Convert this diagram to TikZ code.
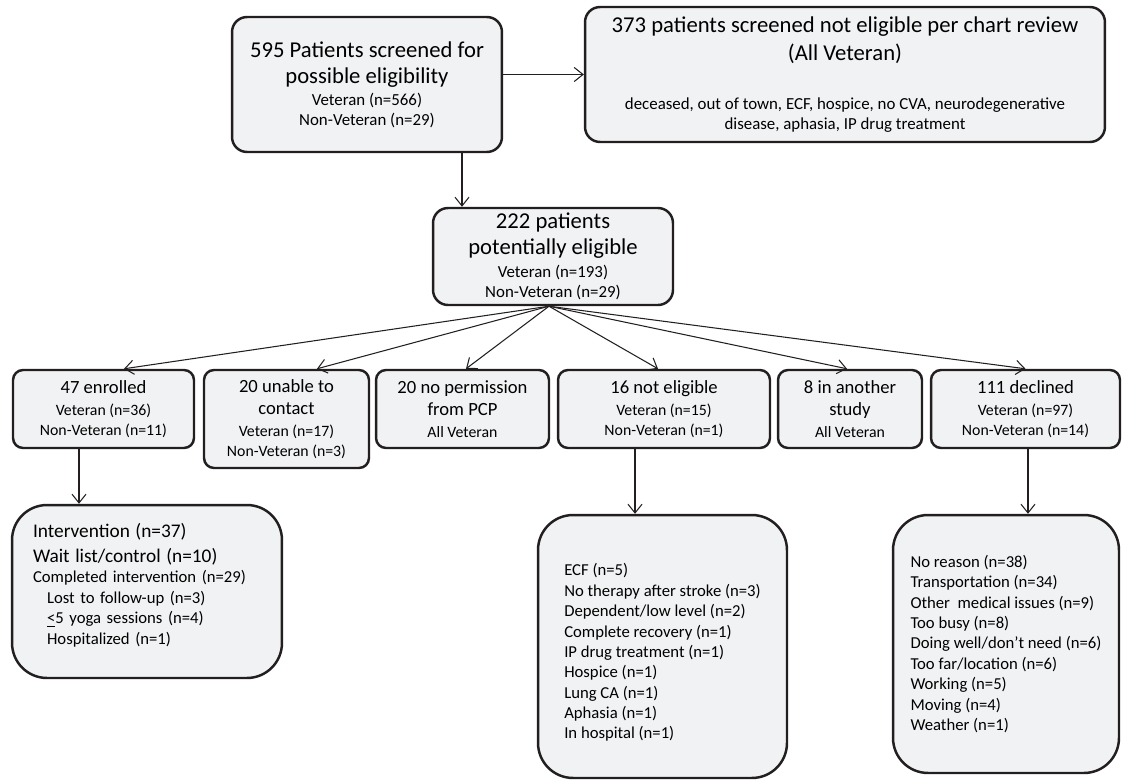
\documentclass[tikz,border=0pt]{standalone}
\usepackage{fontspec}
\setmainfont{Carlito}
\usetikzlibrary{arrows.meta}
\definecolor{boxfill}{HTML}{F1F2F4}
\definecolor{boxline}{HTML}{231F20}
\newcommand{\hd}{\fontsize{12.9}{14.5}\selectfont}
\newcommand{\md}{\fontsize{10.6}{12.5}\selectfont}
\newcommand{\sm}{\fontsize{9}{11.3}\selectfont}
\newcommand{\smb}{\fontsize{9.6}{11.3}\selectfont}
\newcommand{\lst}{\fontsize{9.5}{11.6}\selectfont}

\begin{document}
\begin{tikzpicture}[x=0.02cm, y=-0.02cm,
    box/.style={draw=boxline, fill=boxfill, line width=1.4pt, rounded corners=0.3cm, align=center, inner sep=2pt, font=\smb},
    rowbox/.style={box, rounded corners=0.2cm, minimum height=1.56cm, font=\sm},
    listbox/.style={box, rounded corners=0.7cm, align=left, font=\lst},
    arr/.style={-{Straight Barb[length=5pt,width=8pt]}, line width=0.6pt, draw=boxline}]
    \useasboundingbox (0,0) rectangle (1123,781);
    % Nodes
    \node[box, minimum width=5.4cm, minimum height=2.7cm] (scr) at (367,84.5)
        {\hd 595 Patients screened for\\[3.5pt]\hd possible eligibility\\[1.5pt]Veteran (n=566)\\Non-Veteran (n=29)};
    \node[box, minimum width=10.4cm, minimum height=2.7cm] (chart) at (845,74.5)
        {\hd 373 patients screened not eligible per chart review\\[3.5pt]\hd (All Veteran)\\[16.5pt]deceased, out of town, ECF, hospice, no CVA, neurodegenerative\\disease, aphasia, IP drug treatment};
    \node[box, minimum width=4.8cm, minimum height=1.94cm] (pot) at (553,256.5)
        {\hd 222 patients\\[3.5pt]\hd potentially eligible\\[1.5pt]Veteran (n=193)\\Non-Veteran (n=29)};
    \node[rowbox, minimum width=3.62cm] (enr) at (103.5,409)
        {\md 47 enrolled\\[1pt]Veteran (n=36)\\Non-Veteran (n=11)};
    \node[rowbox, minimum width=3.3cm, minimum height=1.96cm] (una) at (286.5,419)
        {\md 20 unable to\\[1.5pt]\md contact\\[1pt]Veteran (n=17)\\Non-Veteran (n=3)};
    \node[rowbox, minimum width=3.46cm] (perm) at (462.5,409)
        {\md 20 no permission\\[1.5pt]\md from PCP\\[1pt]All Veteran};
    \node[rowbox, minimum width=4.24cm] (nel) at (664,409)
        {\md 16 not eligible\\[1pt]Veteran (n=15)\\Non-Veteran (n=1)};
    \node[rowbox, minimum width=2.88cm] (oth) at (850,409)
        {\md 8 in another\\[1.5pt]\md study\\[1pt]All Veteran};
    \node[rowbox, minimum width=3.78cm] (dec) at (1025.5,409)
        {\md 111 declined\\[1pt]Veteran (n=97)\\Non-Veteran (n=14)};
    \node[listbox, minimum width=5.4cm, minimum height=3.46cm, inner xsep=0.42cm, text width=4.56cm] (intv) at (147,591.5)
        {\fontsize{11}{12.5}\selectfont Intervention (n=37)\\[1.5pt]Wait list/control (n=10)\\\lst Completed intervention (n=29)\\
         \hspace*{8pt}Lost to follow-up (n=3)\\\hspace*{8pt}\underline{<}5 yoga sessions (n=4)\\\hspace*{8pt}Hospitalized (n=1)\\[-3pt]\mbox{}};
    \node[listbox, minimum width=4.98cm, minimum height=5.26cm] (why) at (662.5,646.5)
        {\rule{0pt}{14pt}ECF (n=5)\\No therapy after stroke (n=3)\\Dependent/low level (n=2)\\Complete recovery (n=1)\\
         IP drug treatment (n=1)\\Hospice (n=1)\\Lung CA (n=1)\\Aphasia (n=1)\\In hospital (n=1)};
    \node[listbox, minimum width=4.52cm, minimum height=5.16cm] (rsn) at (1006,644)
        {No reason (n=38)\\Transportation (n=34)\\Other\ \ medical issues (n=9)\\Too busy (n=8)\\
         Doing well/don’t need (n=6)\\Too far/location (n=6)\\Working (n=5)\\Moving (n=4)\\Weather (n=1)};
    % Edges
    \draw[arr] (scr.east |- chart.west) -- (chart.west);
    \draw[arr] ([xshift=1.9cm]scr.south) -- ([xshift=1.9cm]scr.south |- pot.north);
    \foreach \n/\s in {enr/0.41, una/0.61, perm/0.07, nel/-0.12, oth/-0.06, dec/0}
        \draw[arr] ([xshift=-0.08cm]pot.south) -- ([xshift=\s cm]\n.north);
    \draw[arr] ([xshift=-0.49cm]enr.south) -- ([xshift=-0.49cm]enr.south |- intv.north);
    \draw[arr] ([xshift=-0.58cm]nel.south) -- ([xshift=-0.58cm]nel.south |- why.north);
    \draw[arr] ([xshift=0.05cm]dec.south) -- ([xshift=0.05cm]dec.south |- rsn.north);
\end{tikzpicture}
\end{document}
